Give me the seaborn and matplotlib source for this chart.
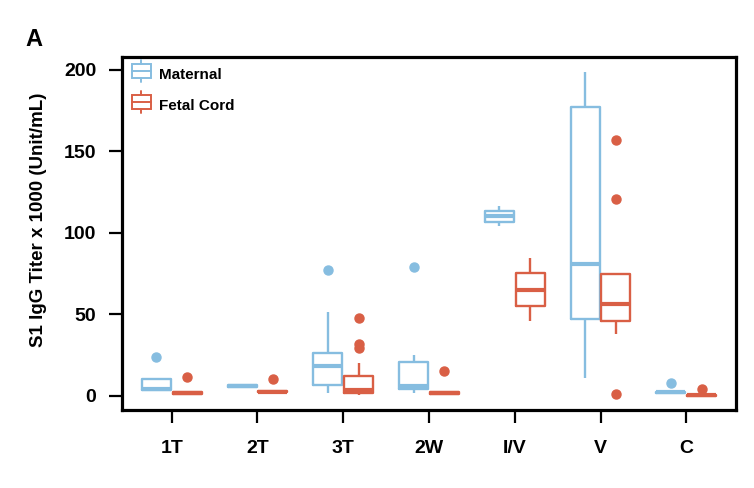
import matplotlib
matplotlib.use("Agg")
import matplotlib.pyplot as plt
import seaborn as sns
import pandas as pd
from matplotlib.patches import Patch, Rectangle
from matplotlib.lines import Line2D
from matplotlib.legend_handler import HandlerBase

# categories and groups
stages = ["1T", "2T", "3T", "2W", "I/V", "V", "C"]
groups = ["Maternal", "Fetal Cord"]
colors = ["#86bde0", "#d95f45"]

# titers (x1000 Unit/mL), one list per stage
maternal = {
    "1T": [3.5, 3.5, 3.5, 4.0, 4.5, 8.0, 10.6, 10.6, 24.0],
    "2T": [5.2, 5.5, 5.8, 6.0, 6.2, 6.4, 6.6, 7.0, 7.2],
    "3T": [1.6, 4.0, 6.8, 12.0, 18.3, 22.0, 26.3, 51.3, 77.3],
    "2W": [2.0, 3.0, 4.1, 5.0, 6.1, 15.0, 21.1, 25.2, 79.0],
    "I/V": [104.0, 105.5, 106.6, 108.5, 110.4, 112.0, 113.4, 115.0, 116.5],
    "V": [10.9, 30.0, 47.2, 65.0, 80.8, 130.0, 177.2, 190.0, 198.6],
    "C": [1.5, 1.8, 2.0, 2.2, 2.3, 2.5, 2.7, 3.0, 8.2],
}
fetal = {
    "1T": [0.6, 0.8, 1.0, 1.3, 1.6, 1.9, 2.2, 2.6, 11.9],
    "2T": [2.0, 2.2, 2.4, 2.6, 2.7, 2.9, 3.0, 3.2, 10.3],
    "3T": [0.4, 0.8, 1.1, 1.4, 1.6, 2.0, 2.6, 3.0, 3.5, 5.0, 8.0, 10.0, 12.5,
           20.0, 29.7, 31.8, 47.6],
    "2W": [0.6, 0.8, 1.0, 1.3, 1.6, 1.9, 2.2, 2.6, 15.2],
    "I/V": [46.0, 50.0, 55.0, 60.0, 65.2, 70.0, 75.3, 80.0, 84.5],
    "V": [1.0, 38.0, 42.0, 46.0, 50.0, 53.0, 56.4, 62.0, 70.0, 74.5, 74.5,
          120.6, 157.1],
    "C": [0.0, 0.1, 0.2, 0.3, 0.4, 0.5, 0.6, 0.8, 4.1],
}

rows = []
for grp, d in zip(groups, [maternal, fetal]):
    for st in stages:
        for v in d[st]:
            rows.append({"Stage": st, "Source": grp, "Titer": v})
df = pd.DataFrame(rows)


class BoxHandler(HandlerBase):
    # little boxplot glyph for the legend
    def create_artists(self, legend, orig, xd, yd, w, h, fontsize, trans):
        c = orig.get_edgecolor()
        bx, bw = xd, w
        by, bh = yd - 0.05 * h, 1.05 * h
        box = Rectangle((bx, by), bw, bh, facecolor="none", edgecolor=c,
                        lw=1.4, transform=trans)
        med = Line2D([bx, bx + bw], [by + bh / 2] * 2, color=c, lw=1.4, transform=trans)
        wt = Line2D([xd + w / 2] * 2, [by + bh, by + bh + 0.3 * h], color=c, lw=1.4,
                    transform=trans)
        wb = Line2D([xd + w / 2] * 2, [by, by - 0.3 * h], color=c, lw=1.4,
                    transform=trans)
        return [box, med, wt, wb]


sns.set_style("ticks")
plt.rcParams["font.family"] = ["Liberation Sans", "DejaVu Sans"]
plt.rcParams["text.color"] = "black"
plt.rcParams["axes.labelcolor"] = "black"
plt.rcParams["xtick.color"] = "black"
plt.rcParams["ytick.color"] = "black"

fig, ax = plt.subplots(figsize=(7.54, 4.88), dpi=100)
fig.subplots_adjust(left=122 / 754, right=736 / 754, top=1 - 57 / 488, bottom=1 - 410 / 488)

sns.boxplot(data=df, x="Stage", y="Titer", hue="Source", order=stages,
            hue_order=groups, palette=colors, fill=False, width=0.72, gap=0.06,
            linewidth=1.7, showcaps=False, legend=False, ax=ax,
            medianprops={"linewidth": 3},
            flierprops={"marker": "o", "markersize": 6.5})

for ln in ax.lines:
    if ln.get_marker() == "o":
        ln.set_markerfacecolor(ln.get_markeredgecolor())

ax.set_xlim(-0.58, 6.58)
ax.set_ylim(-8.6, 207.8)
ax.set_yticks([0, 50, 100, 150, 200])
ax.set_xlabel("")
ax.set_ylabel("S1 IgG Titer x 1000 (Unit/mL)", fontsize=13.5, fontweight="bold")
ax.yaxis.set_label_coords(-0.122, 0.538)
for s in ax.spines.values():
    s.set_linewidth(2.3)
    s.set_color("black")
ax.tick_params(axis="both", length=9.5, width=1.6, pad=9, labelsize=14)
ax.tick_params(axis="x", pad=12)
for lab in ax.get_xticklabels() + ax.get_yticklabels():
    lab.set_fontweight("bold")

handles = [Patch(edgecolor=c, facecolor="none") for c in colors]
leg = ax.legend(handles, groups, loc="upper left", frameon=False,
                handler_map={Patch: BoxHandler()}, prop={"weight": "bold", "size": 11},
                handlelength=1.25, handleheight=1.0, handletextpad=0.5,
                labelspacing=1.05, borderaxespad=0.45, borderpad=0.2)

fig.text(25 / 754, 1 - 46 / 488, "A", fontsize=17, fontweight="bold")

fig.savefig("out.png", dpi=100)
